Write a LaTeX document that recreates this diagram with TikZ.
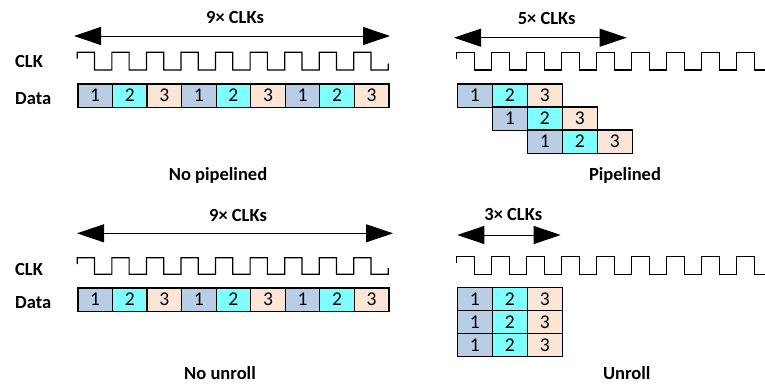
\documentclass[tikz,border=0pt]{standalone}
\usepackage{fontspec}
\setmainfont{Carlito}
\usetikzlibrary{arrows.meta}
\definecolor{cblue}{HTML}{B9CDE5}
\definecolor{ccyan}{HTML}{80FFFF}
\definecolor{cpeach}{HTML}{FBE5D6}
\tikzset{
  cell/.style={draw=black, line width=1.2pt, minimum width=#1, minimum height=23.3pt, inner sep=0pt, anchor=north west, font=\fontsize{19.5}{21}\selectfont},
  cell/.default=34.6pt,
  lbl/.style={font=\bfseries\fontsize{18.5}{21}\selectfont, inner sep=0pt},
  span/.style={{Triangle[length=27pt,width=18pt]}-{Triangle[length=27pt,width=18pt]}, line width=1pt},
  wave/.style={line width=1.2pt, line join=miter},
}
\begin{document}
\begin{tikzpicture}[x=1pt,y=-1pt]
\useasboundingbox (0,0) rectangle (765,383);
\fill[white] (0,0) rectangle (765,383);
% ---------- top left: No pipelined ----------
\node[lbl] (t1) at (235,18) {9× CLKs};
\coordinate (a1l) at (74,36); \coordinate (a1r) at (390,36);
\draw[span] (a1l) -- (a1r);
\node[lbl, anchor=west] (clk1) at (15,61) {CLK};
\node[lbl, anchor=west] (dat1) at (15,99) {Data};
\draw[wave] (77.3,58.5) -- (77.3,52.3)
  \foreach \k in {0,...,8} { -- ({77.3+\k*34.56+17.28},52.3) -- ({77.3+\k*34.56+17.28},70) -- ({77.3+(\k+1)*34.56},70) \ifnum\k<8 -- ({77.3+(\k+1)*34.56},52.3)\fi }
  -- (388.3,63.5);
\foreach \i/\n/\c in {0/1/cblue,1/2/ccyan,2/3/cpeach,3/1/cblue,4/2/ccyan,5/3/cpeach,6/1/cblue,7/2/ccyan,8/3/cpeach}
  \node[cell=34.56pt, fill=\c] (d1\i) at ({77.3+\i*34.56},83.3) {\n};
\node[lbl] (cap1) at (218,175) {No pipelined};
% ---------- top right: Pipelined ----------
\node[lbl] (t2) at (546.7,18.3) {5× CLKs};
\coordinate (a2l) at (454,37.7); \coordinate (a2r) at (626.7,37.7);
\draw[span] (a2l) -- (a2r);
\draw[wave] (456.7,58.5) -- (456.7,52.3)
  \foreach \k in {0,...,8} { -- ({456.7+\k*35+17.5},52.3) -- ({456.7+\k*35+17.5},70) -- ({min(456.7+(\k+1)*35,766)},70) \ifnum\k<8 -- ({456.7+(\k+1)*35},52.3)\fi };
\foreach \r in {0,1,2}
  \foreach \i/\n/\c in {0/1/cblue,1/2/ccyan,2/3/cpeach}
    \node[cell=35pt, fill=\c] (p\r\i) at ({456.7+(\r+\i)*35},{83.3+\r*23}) {\n};
\node[lbl] (cap2) at (625,175) {Pipelined};
% ---------- bottom left: No unroll ----------
\node[lbl] (t3) at (238,215) {9× CLKs};
\coordinate (a3l) at (77,233.3); \coordinate (a3r) at (393,233.3);
\draw[span] (a3l) -- (a3r);
\node[lbl, anchor=west] (clk3) at (15,269) {CLK};
\node[lbl, anchor=west] (dat3) at (15,303) {Data};
\draw[wave] (77.3,264) -- (77.3,257.7)
  \foreach \k in {0,...,8} { -- ({77.3+\k*34.56+17.28},257.7) -- ({77.3+\k*34.56+17.28},274.3) -- ({77.3+(\k+1)*34.56},274.3) \ifnum\k<8 -- ({77.3+(\k+1)*34.56},257.7)\fi }
  -- (388.3,268);
\foreach \i/\n/\c in {0/1/cblue,1/2/ccyan,2/3/cpeach,3/1/cblue,4/2/ccyan,5/3/cpeach,6/1/cblue,7/2/ccyan,8/3/cpeach}
  \node[cell=34.56pt, fill=\c] (d3\i) at ({77.3+\i*34.56},287.3) {\n};
\node[lbl] (cap3) at (220,373) {No unroll};
% ---------- bottom right: Unroll ----------
\node[lbl] (t4) at (513.3,214.3) {3× CLKs};
\coordinate (a4l) at (457.3,235); \coordinate (a4r) at (560.7,235);
\draw[span] (a4l) -- (a4r);
\draw[wave] (456.7,263) -- (456.7,256.7)
  \foreach \k in {0,...,8} { -- ({456.7+\k*35+17.5},256.7) -- ({456.7+\k*35+17.5},274.3) -- ({min(456.7+(\k+1)*35,766)},274.3) \ifnum\k<8 -- ({456.7+(\k+1)*35},256.7)\fi };
\foreach \r in {0,1,2}
  \foreach \i/\n/\c in {0/1/cblue,1/2/ccyan,2/3/cpeach}
    \node[cell=35pt, fill=\c] (u\r\i) at ({456.7+\i*35},{286.7+\r*23}) {\n};
\node[lbl] (cap4) at (626.7,373) {Unroll};
\end{tikzpicture}
\end{document}
